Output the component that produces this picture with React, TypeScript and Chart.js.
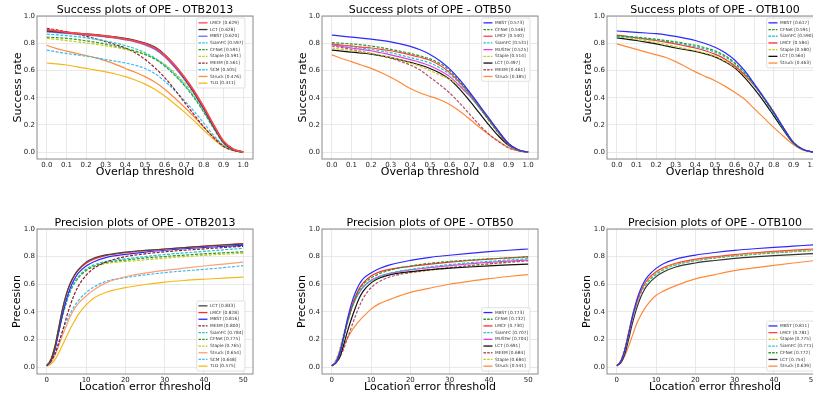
import React, { useEffect, useRef } from "react";
import { Chart, registerables } from "chart.js";

Chart.register(...registerables);

const FONT = '"DejaVu Sans", sans-serif';

// ---------- x positions and ticks ----------
const overlapThresholds = [0, 0.05, 0.1, 0.15, 0.2, 0.25, 0.3, 0.35, 0.4, 0.45, 0.5, 0.55, 0.6, 0.65, 0.7, 0.75, 0.8, 0.85, 0.9, 0.95, 1.0];
const errorThresholds = [0, 1, 2, 3, 4, 5, 6, 7, 8, 10, 12, 15, 20, 25, 30, 35, 40, 45, 50];
const overlapTicks = [0, 0.1, 0.2, 0.3, 0.4, 0.5, 0.6, 0.7, 0.8, 0.9, 1.0];
const errorTicks = [0, 10, 20, 30, 40, 50];
const rateTicks = [0, 0.2, 0.4, 0.6, 0.8, 1.0];

// ---------- Success plots – OTB2013 ----------
const s13Names = ["LMCF", "LCT", "MBST", "SiamFC", "CFNet", "Staple", "MEEM", "SCM", "Struck", "TLD"];
const s13Scores = ["0.629", "0.628", "0.620", "0.597", "0.591", "0.591", "0.561", "0.505", "0.476", "0.411"];
const s13LMCF = [0.900, 0.890, 0.880, 0.873, 0.866, 0.859, 0.851, 0.842, 0.830, 0.815, 0.795, 0.765, 0.712, 0.640, 0.552, 0.450, 0.330, 0.200, 0.080, 0.022, 0.000];
const s13LCT = [0.892, 0.886, 0.879, 0.873, 0.867, 0.861, 0.853, 0.845, 0.834, 0.820, 0.800, 0.770, 0.715, 0.640, 0.548, 0.442, 0.322, 0.192, 0.076, 0.020, 0.000];
const s13MBST = [0.885, 0.880, 0.874, 0.868, 0.862, 0.856, 0.848, 0.839, 0.827, 0.812, 0.790, 0.757, 0.703, 0.628, 0.538, 0.437, 0.318, 0.188, 0.074, 0.020, 0.000];
const s13SiamFC = [0.866, 0.862, 0.856, 0.849, 0.840, 0.829, 0.816, 0.801, 0.783, 0.760, 0.730, 0.692, 0.640, 0.575, 0.498, 0.408, 0.300, 0.180, 0.070, 0.018, 0.000];
const s13CFNet = [0.845, 0.841, 0.836, 0.828, 0.818, 0.807, 0.794, 0.779, 0.762, 0.743, 0.718, 0.684, 0.633, 0.567, 0.490, 0.400, 0.292, 0.173, 0.066, 0.017, 0.000];
const s13Staple = [0.835, 0.828, 0.820, 0.811, 0.802, 0.792, 0.781, 0.769, 0.755, 0.738, 0.716, 0.688, 0.645, 0.585, 0.512, 0.422, 0.312, 0.187, 0.075, 0.020, 0.000];
const s13MEEM = [0.910, 0.898, 0.885, 0.868, 0.851, 0.832, 0.812, 0.790, 0.765, 0.730, 0.682, 0.620, 0.548, 0.462, 0.368, 0.275, 0.185, 0.105, 0.042, 0.012, 0.000];
const s13SCM = [0.750, 0.737, 0.725, 0.715, 0.705, 0.693, 0.680, 0.668, 0.655, 0.638, 0.615, 0.577, 0.522, 0.455, 0.380, 0.300, 0.212, 0.123, 0.050, 0.014, 0.000];
const s13Struck = [0.785, 0.760, 0.742, 0.725, 0.710, 0.692, 0.670, 0.645, 0.615, 0.587, 0.555, 0.515, 0.462, 0.400, 0.332, 0.260, 0.182, 0.110, 0.048, 0.014, 0.000];
const s13TLD = [0.655, 0.648, 0.640, 0.628, 0.615, 0.603, 0.590, 0.574, 0.555, 0.530, 0.500, 0.462, 0.412, 0.356, 0.296, 0.230, 0.160, 0.095, 0.040, 0.011, 0.000];

// ---------- Success plots – OTB50 ----------
const s50Names = ["MBST", "CFNet", "LMCF", "SiamFC", "MUSTer", "Staple", "LCT", "MEEM", "Struck"];
const s50Scores = ["0.573", "0.546", "0.540", "0.531", "0.525", "0.514", "0.497", "0.461", "0.385"];
const s50MBST = [0.860, 0.852, 0.845, 0.838, 0.830, 0.821, 0.810, 0.795, 0.777, 0.752, 0.718, 0.672, 0.612, 0.535, 0.445, 0.347, 0.250, 0.152, 0.062, 0.018, 0.000];
const s50CFNet = [0.805, 0.800, 0.795, 0.788, 0.780, 0.768, 0.755, 0.741, 0.725, 0.707, 0.685, 0.652, 0.600, 0.522, 0.432, 0.332, 0.232, 0.137, 0.055, 0.015, 0.000];
const s50LMCF = [0.795, 0.787, 0.780, 0.772, 0.765, 0.755, 0.745, 0.731, 0.715, 0.697, 0.675, 0.638, 0.585, 0.515, 0.432, 0.337, 0.237, 0.142, 0.058, 0.016, 0.000];
const s50SiamFC = [0.795, 0.785, 0.775, 0.765, 0.755, 0.743, 0.730, 0.713, 0.695, 0.677, 0.655, 0.620, 0.573, 0.505, 0.422, 0.330, 0.236, 0.142, 0.060, 0.016, 0.000];
const s50MUSTer = [0.790, 0.777, 0.765, 0.755, 0.745, 0.730, 0.715, 0.698, 0.680, 0.660, 0.635, 0.600, 0.555, 0.490, 0.415, 0.330, 0.240, 0.150, 0.065, 0.018, 0.000];
const s50Staple = [0.765, 0.755, 0.745, 0.735, 0.725, 0.710, 0.695, 0.676, 0.655, 0.630, 0.600, 0.567, 0.535, 0.482, 0.418, 0.340, 0.250, 0.155, 0.066, 0.018, 0.000];
const s50LCT = [0.750, 0.742, 0.735, 0.728, 0.720, 0.708, 0.695, 0.678, 0.660, 0.640, 0.615, 0.582, 0.535, 0.465, 0.380, 0.290, 0.200, 0.117, 0.050, 0.014, 0.000];
const s50MEEM = [0.780, 0.768, 0.755, 0.740, 0.725, 0.708, 0.690, 0.667, 0.640, 0.603, 0.550, 0.495, 0.435, 0.362, 0.282, 0.202, 0.132, 0.076, 0.032, 0.010, 0.000];
const s50Struck = [0.715, 0.688, 0.665, 0.640, 0.615, 0.585, 0.550, 0.510, 0.467, 0.435, 0.410, 0.385, 0.350, 0.302, 0.245, 0.185, 0.130, 0.080, 0.035, 0.010, 0.000];

// ---------- Success plots – OTB100 ----------
const s100Names = ["MBST", "CFNet", "SiamFC", "LMCF", "Staple", "LCT", "Struck"];
const s100Scores = ["0.617", "0.591", "0.590", "0.584", "0.580", "0.564", "0.463"];
const s100MBST = [0.890, 0.885, 0.880, 0.875, 0.870, 0.862, 0.850, 0.836, 0.820, 0.798, 0.770, 0.732, 0.677, 0.600, 0.502, 0.400, 0.290, 0.175, 0.070, 0.020, 0.000];
const s100CFNet = [0.855, 0.850, 0.845, 0.838, 0.830, 0.820, 0.810, 0.798, 0.785, 0.767, 0.745, 0.710, 0.657, 0.585, 0.492, 0.390, 0.280, 0.166, 0.065, 0.018, 0.000];
const s100SiamFC = [0.850, 0.845, 0.840, 0.833, 0.825, 0.815, 0.805, 0.790, 0.775, 0.757, 0.735, 0.700, 0.650, 0.580, 0.495, 0.395, 0.285, 0.170, 0.068, 0.019, 0.000];
const s100LMCF = [0.860, 0.850, 0.840, 0.830, 0.820, 0.808, 0.795, 0.780, 0.765, 0.745, 0.720, 0.685, 0.635, 0.570, 0.490, 0.395, 0.290, 0.175, 0.070, 0.020, 0.000];
const s100Staple = [0.850, 0.840, 0.830, 0.818, 0.805, 0.790, 0.775, 0.760, 0.745, 0.727, 0.705, 0.670, 0.625, 0.565, 0.490, 0.400, 0.300, 0.180, 0.075, 0.021, 0.000];
const s100LCT = [0.840, 0.830, 0.820, 0.808, 0.795, 0.780, 0.765, 0.752, 0.740, 0.722, 0.700, 0.665, 0.620, 0.550, 0.465, 0.370, 0.265, 0.160, 0.065, 0.018, 0.000];
const s100Struck = [0.795, 0.775, 0.755, 0.735, 0.715, 0.695, 0.665, 0.628, 0.590, 0.557, 0.525, 0.485, 0.440, 0.390, 0.320, 0.250, 0.180, 0.115, 0.055, 0.015, 0.000];

// ---------- Precision plots – OTB2013 ----------
const p13Names = ["LCT", "LMCF", "MBST", "MEEM", "SiamFC", "CFNet", "Staple", "Struck", "SCM", "TLD"];
const p13Scores = ["0.833", "0.828", "0.816", "0.800", "0.784", "0.775", "0.765", "0.654", "0.648", "0.575"];
const p13LCT = [0.010, 0.050, 0.140, 0.280, 0.420, 0.530, 0.610, 0.665, 0.705, 0.760, 0.790, 0.812, 0.833, 0.845, 0.855, 0.865, 0.875, 0.884, 0.890];
const p13LMCF = [0.010, 0.050, 0.140, 0.280, 0.420, 0.530, 0.605, 0.660, 0.700, 0.752, 0.782, 0.807, 0.828, 0.843, 0.855, 0.866, 0.876, 0.886, 0.895];
const p13MBST = [0.010, 0.045, 0.120, 0.250, 0.380, 0.490, 0.575, 0.635, 0.680, 0.732, 0.763, 0.793, 0.816, 0.832, 0.846, 0.857, 0.866, 0.874, 0.882];
const p13MEEM = [0.010, 0.040, 0.090, 0.170, 0.260, 0.360, 0.450, 0.525, 0.585, 0.665, 0.715, 0.760, 0.800, 0.820, 0.835, 0.846, 0.856, 0.866, 0.875];
const p13SiamFC = [0.010, 0.050, 0.130, 0.250, 0.370, 0.470, 0.550, 0.610, 0.655, 0.710, 0.740, 0.765, 0.784, 0.800, 0.815, 0.827, 0.838, 0.849, 0.860];
const p13CFNet = [0.010, 0.050, 0.130, 0.250, 0.370, 0.470, 0.550, 0.605, 0.645, 0.700, 0.730, 0.757, 0.775, 0.790, 0.801, 0.811, 0.820, 0.828, 0.835];
const p13Staple = [0.010, 0.060, 0.150, 0.270, 0.390, 0.490, 0.560, 0.610, 0.650, 0.700, 0.728, 0.750, 0.765, 0.777, 0.789, 0.800, 0.809, 0.818, 0.825];
const p13Struck = [0.010, 0.030, 0.080, 0.150, 0.230, 0.300, 0.370, 0.420, 0.460, 0.515, 0.560, 0.610, 0.654, 0.680, 0.700, 0.717, 0.732, 0.746, 0.760];
const p13SCM = [0.010, 0.040, 0.100, 0.180, 0.260, 0.330, 0.390, 0.440, 0.480, 0.540, 0.580, 0.620, 0.648, 0.668, 0.684, 0.697, 0.708, 0.720, 0.735];
const p13TLD = [0.005, 0.020, 0.050, 0.100, 0.160, 0.220, 0.280, 0.330, 0.380, 0.450, 0.500, 0.540, 0.575, 0.598, 0.615, 0.627, 0.636, 0.644, 0.652];

// ---------- Precision plots – OTB50 ----------
const p50Names = ["MBST", "CFNet", "LMCF", "SiamFC", "MUSTer", "LCT", "MEEM", "Staple", "Struck"];
const p50Scores = ["0.773", "0.732", "0.730", "0.707", "0.704", "0.691", "0.684", "0.684", "0.541"];
const p50MBST = [0.010, 0.030, 0.100, 0.220, 0.350, 0.460, 0.540, 0.600, 0.640, 0.682, 0.712, 0.742, 0.773, 0.795, 0.810, 0.824, 0.836, 0.846, 0.855];
const p50CFNet = [0.010, 0.030, 0.090, 0.200, 0.320, 0.420, 0.500, 0.560, 0.600, 0.645, 0.675, 0.703, 0.732, 0.752, 0.765, 0.775, 0.783, 0.790, 0.797];
const p50LMCF = [0.010, 0.030, 0.100, 0.210, 0.330, 0.430, 0.510, 0.570, 0.610, 0.660, 0.688, 0.710, 0.730, 0.746, 0.760, 0.772, 0.782, 0.791, 0.800];
const p50SiamFC = [0.010, 0.040, 0.110, 0.220, 0.330, 0.420, 0.490, 0.540, 0.580, 0.625, 0.655, 0.682, 0.707, 0.727, 0.742, 0.755, 0.766, 0.776, 0.785];
const p50MUSTer = [0.010, 0.040, 0.110, 0.220, 0.330, 0.420, 0.490, 0.540, 0.580, 0.628, 0.655, 0.680, 0.704, 0.720, 0.735, 0.748, 0.758, 0.767, 0.775];
const p50LCT = [0.010, 0.030, 0.070, 0.160, 0.260, 0.350, 0.430, 0.500, 0.550, 0.610, 0.643, 0.670, 0.691, 0.705, 0.716, 0.725, 0.733, 0.740, 0.746];
const p50MEEM = [0.010, 0.030, 0.070, 0.130, 0.210, 0.290, 0.370, 0.440, 0.500, 0.575, 0.618, 0.655, 0.684, 0.705, 0.721, 0.735, 0.748, 0.760, 0.770];
const p50Staple = [0.010, 0.050, 0.130, 0.240, 0.340, 0.430, 0.500, 0.550, 0.585, 0.625, 0.650, 0.670, 0.684, 0.700, 0.716, 0.731, 0.745, 0.758, 0.770];
const p50Struck = [0.010, 0.030, 0.080, 0.150, 0.210, 0.260, 0.300, 0.335, 0.365, 0.420, 0.458, 0.492, 0.541, 0.572, 0.600, 0.621, 0.640, 0.656, 0.670];

// ---------- Precision plots – OTB100 ----------
const p100Names = ["MBST", "LMCF", "Staple", "SiamFC", "CFNet", "LCT", "Struck"];
const p100Scores = ["0.811", "0.781", "0.775", "0.771", "0.772", "0.754", "0.639"];
const p100MBST = [0.010, 0.040, 0.120, 0.240, 0.370, 0.480, 0.560, 0.620, 0.660, 0.715, 0.750, 0.782, 0.811, 0.830, 0.845, 0.857, 0.867, 0.876, 0.885];
const p100LMCF = [0.010, 0.040, 0.120, 0.240, 0.360, 0.460, 0.540, 0.600, 0.640, 0.690, 0.722, 0.752, 0.781, 0.800, 0.815, 0.828, 0.838, 0.847, 0.855];
const p100Staple = [0.010, 0.050, 0.140, 0.260, 0.380, 0.470, 0.540, 0.590, 0.630, 0.680, 0.712, 0.745, 0.775, 0.795, 0.810, 0.822, 0.832, 0.840, 0.848];
const p100SiamFC = [0.010, 0.040, 0.120, 0.240, 0.360, 0.450, 0.530, 0.580, 0.620, 0.670, 0.705, 0.740, 0.771, 0.792, 0.808, 0.820, 0.830, 0.838, 0.845];
const p100CFNet = [0.010, 0.040, 0.120, 0.240, 0.360, 0.460, 0.535, 0.590, 0.625, 0.675, 0.710, 0.742, 0.772, 0.790, 0.805, 0.817, 0.827, 0.836, 0.845];
const p100LCT = [0.010, 0.030, 0.090, 0.200, 0.320, 0.420, 0.500, 0.560, 0.600, 0.655, 0.690, 0.725, 0.754, 0.772, 0.787, 0.798, 0.807, 0.815, 0.822];
const p100Struck = [0.010, 0.030, 0.080, 0.150, 0.230, 0.310, 0.370, 0.420, 0.460, 0.520, 0.552, 0.590, 0.639, 0.670, 0.698, 0.718, 0.737, 0.754, 0.770];

// ---------- styles ----------
const trackerColor: Record<string, string> = {
  LMCF: "#ff2a2a",
  LCT: "#111111",
  MBST: "#2a2aff",
  SiamFC: "#1fc4cc",
  CFNet: "#2a9a2a",
  Staple: "#c9c918",
  MEEM: "#8e1c2a",
  SCM: "#3cbcf0",
  Struck: "#ff8a3a",
  TLD: "#f5b816",
  MUSTer: "#e040e0",
};
const dashedTrackers = ["SiamFC", "CFNet", "Staple", "MEEM", "SCM"];

type Panel = {
  title: string;
  xLabel: string;
  yLabel: string;
  kind: "success" | "precision";
  names: string[];
  scores: string[];
  values: number[][];
  colorOverride: Record<string, string>;
  widthOverride: Record<string, number>;
};

const panels: Panel[] = [
  {
    title: "Success plots of OPE - OTB2013", xLabel: "Overlap threshold", yLabel: "Success rate", kind: "success",
    names: s13Names, scores: s13Scores,
    values: [s13LMCF, s13LCT, s13MBST, s13SiamFC, s13CFNet, s13Staple, s13MEEM, s13SCM, s13Struck, s13TLD],
    colorOverride: { LMCF: "#ff4444", LCT: "#333333", MBST: "#6a6aff" },
    widthOverride: { LMCF: 1.8, LCT: 1.8, MBST: 1.8 },
  },
  {
    title: "Success plots of OPE - OTB50", xLabel: "Overlap threshold", yLabel: "Success rate", kind: "success",
    names: s50Names, scores: s50Scores,
    values: [s50MBST, s50CFNet, s50LMCF, s50SiamFC, s50MUSTer, s50Staple, s50LCT, s50MEEM, s50Struck],
    colorOverride: { MEEM: "#b0506a", LMCF: "#ff4444" },
    widthOverride: {},
  },
  {
    title: "Success plots of OPE - OTB100", xLabel: "Overlap threshold", yLabel: "Success rate", kind: "success",
    names: s100Names, scores: s100Scores,
    values: [s100MBST, s100CFNet, s100SiamFC, s100LMCF, s100Staple, s100LCT, s100Struck],
    colorOverride: {},
    widthOverride: {},
  },
  {
    title: "Precision plots of OPE - OTB2013", xLabel: "Location error threshold", yLabel: "Precesion", kind: "precision",
    names: p13Names, scores: p13Scores,
    values: [p13LCT, p13LMCF, p13MBST, p13MEEM, p13SiamFC, p13CFNet, p13Staple, p13Struck, p13SCM, p13TLD],
    colorOverride: { Struck: "#ff9f73", LCT: "#444444" },
    widthOverride: {},
  },
  {
    title: "Precision plots of OPE - OTB50", xLabel: "Location error threshold", yLabel: "Precesion", kind: "precision",
    names: p50Names, scores: p50Scores,
    values: [p50MBST, p50CFNet, p50LMCF, p50SiamFC, p50MUSTer, p50LCT, p50MEEM, p50Staple, p50Struck],
    colorOverride: { MEEM: "#b0506a" },
    widthOverride: {},
  },
  {
    title: "Precision plots of OPE - OTB100", xLabel: "Location error threshold", yLabel: "Precesion", kind: "precision",
    names: p100Names, scores: p100Scores,
    values: [p100MBST, p100LMCF, p100Staple, p100SiamFC, p100CFNet, p100LCT, p100Struck],
    colorOverride: { LMCF: "#ff4444", LCT: "#333333" },
    widthOverride: {},
  },
];

// ---------- geometry ----------
const CELL_W = 285;
const PLOT_LEFT = 37;
const PLOT_W = 216;
const rows = [
  { top: 0, h: 213, plotTop: 16, plotBottom: 159, titleY: 9.8, xLabelY: 172.5, yLabelX: 18.3 },
  { top: 213, h: 188, plotTop: 16, plotBottom: 161, titleY: 10.6, xLabelY: 173.7, yLabelX: 16.8 },
];
const TITLE_SIZE = 11;
const TITLE_LH = TITLE_SIZE * 1.2;

function makePlugins(p: Panel) {
  const frame = {
    id: "frame",
    afterDatasetsDraw(chart: any) {
      const { ctx, chartArea } = chart;
      ctx.save();
      ctx.strokeStyle = "#8a8a8a";
      ctx.lineWidth = 1;
      ctx.strokeRect(chartArea.left, chartArea.top, chartArea.right - chartArea.left, chartArea.bottom - chartArea.top);
      ctx.restore();
    },
  };
  const legend = {
    id: "insetLegend",
    afterDraw(chart: any) {
      const { ctx, chartArea } = chart;
      const fs = 4.3;
      const rowH = 6.7;
      const sample = 9;
      const gap = 2.5;
      const padX = 1.8;
      const padY = 1.5;
      ctx.save();
      ctx.font = `${fs}px ${FONT}`;
      const texts = p.names.map((n, i) => `${n} [${p.scores[i]}]`);
      const tw = Math.max(...texts.map((t) => ctx.measureText(t).width));
      const w = padX + sample + gap + tw + padX;
      const h = padY * 2 + rowH * texts.length;
      const x = chartArea.right - 8 - w;
      const y = p.kind === "success" ? chartArea.top + 2 : chartArea.bottom - 3 - h;
      ctx.fillStyle = "rgba(255,255,255,0.85)";
      ctx.strokeStyle = "#cccccc";
      ctx.lineWidth = 0.6;
      ctx.beginPath();
      if ((ctx as any).roundRect) (ctx as any).roundRect(x, y, w, h, 1.5);
      else ctx.rect(x, y, w, h);
      ctx.fill();
      ctx.stroke();
      texts.forEach((t, i) => {
        const name = p.names[i];
        const cy = y + padY + rowH * (i + 0.5);
        ctx.strokeStyle = p.colorOverride[name] || trackerColor[name];
        ctx.lineWidth = 1.3;
        ctx.setLineDash(dashedTrackers.includes(name) ? [2.5, 1.2] : []);
        ctx.beginPath();
        ctx.moveTo(x + padX, cy);
        ctx.lineTo(x + padX + sample, cy);
        ctx.stroke();
        ctx.setLineDash([]);
        ctx.fillStyle = "#333333";
        ctx.textBaseline = "middle";
        ctx.textAlign = "left";
        ctx.fillText(t, x + padX + sample + gap, cy);
      });
      ctx.restore();
    },
  };
  return [frame, legend];
}

function buildConfig(p: Panel, rowIdx: number) {
  const r = rows[rowIdx];
  const xs = p.kind === "success" ? overlapThresholds : errorThresholds;
  const xTicks = p.kind === "success" ? overlapTicks : errorTicks;
  const datasets = p.names.map((name, i) => ({
    label: name,
    data: xs.map((x, j) => ({ x, y: p.values[i][j] })),
    borderColor: p.colorOverride[name] || trackerColor[name],
    borderDash: dashedTrackers.includes(name) ? [3, 1.5] : [],
    borderWidth: p.widthOverride[name] || 1.2,
    pointRadius: 0,
    fill: false,
    cubicInterpolationMode: "monotone" as const,
  }));
  const tickFont = { family: FONT, size: 7 };
  const labelFont = { family: FONT, size: TITLE_SIZE, lineHeight: 1.2 };
  return {
    type: "line" as const,
    data: { datasets },
    options: {
      animation: false as const,
      responsive: false,
      maintainAspectRatio: false,
      layout: { padding: { left: 0, top: 0, right: CELL_W - PLOT_LEFT - PLOT_W, bottom: 0 } },
      plugins: {
        legend: { display: false },
        tooltip: { enabled: false },
        title: {
          display: true,
          fullSize: false,
          text: p.title,
          color: "#000000",
          font: { family: FONT, size: TITLE_SIZE, weight: "normal" as const, lineHeight: 1.2 },
          padding: { top: r.titleY - TITLE_LH / 2, bottom: r.plotTop - TITLE_LH - (r.titleY - TITLE_LH / 2) },
        },
      },
      scales: {
        x: {
          type: "linear" as const,
          min: p.kind === "success" ? -0.05 : -2.5,
          max: p.kind === "success" ? 1.05 : 52.5,
          afterBuildTicks: (s: any) => {
            s.ticks = xTicks.map((v) => ({ value: v }));
          },
          afterFit: (s: any) => {
            s.height = r.h - r.plotBottom;
          },
          ticks: {
            font: tickFont,
            color: "#222222",
            padding: 2,
            maxRotation: 0,
            autoSkip: false,
            callback: (v: any) => (p.kind === "success" ? Number(v).toFixed(1) : String(Math.round(Number(v)))),
          },
          grid: { color: "#e3e3e3", lineWidth: 0.8, drawTicks: false },
          border: { display: false },
          title: {
            display: true,
            text: p.xLabel,
            color: "#000000",
            font: labelFont,
            padding: { top: 0, bottom: r.h - r.xLabelY - TITLE_LH / 2 },
          },
        },
        y: {
          type: "linear" as const,
          min: -0.05,
          max: 1.0,
          afterBuildTicks: (s: any) => {
            s.ticks = rateTicks.map((v) => ({ value: v }));
          },
          afterFit: (s: any) => {
            s.width = PLOT_LEFT;
          },
          ticks: {
            font: tickFont,
            color: "#222222",
            padding: 2,
            autoSkip: false,
            callback: (v: any) => Number(v).toFixed(1),
          },
          grid: { color: "#e3e3e3", lineWidth: 0.8, drawTicks: false },
          border: { display: false },
          title: {
            display: true,
            text: p.yLabel,
            color: "#000000",
            font: labelFont,
            padding: { top: r.yLabelX - TITLE_LH / 2, bottom: 0 },
          },
        },
      },
    },
    plugins: makePlugins(p),
  };
}

function PanelChart({ p, col, rowIdx }: { p: Panel; col: number; rowIdx: number }) {
  const ref = useRef<HTMLCanvasElement | null>(null);
  const r = rows[rowIdx];
  useEffect(() => {
    if (!ref.current) return;
    const chart = new Chart(ref.current, buildConfig(p, rowIdx) as any);
    return () => chart.destroy();
  }, [p, rowIdx]);
  return (
    <canvas
      ref={ref}
      width={CELL_W}
      height={r.h}
      style={{ position: "absolute", left: col * CELL_W, top: r.top, width: CELL_W, height: r.h }}
    />
  );
}

export default function App() {
  return (
    <div
      style={{
        position: "fixed",
        left: 0,
        top: 0,
        width: 813,
        height: 401,
        overflow: "hidden",
        background: "#ffffff",
      }}
    >
      {panels.map((p, i) => (
        <PanelChart key={i} p={p} col={i % 3} rowIdx={Math.floor(i / 3)} />
      ))}
    </div>
  );
}
